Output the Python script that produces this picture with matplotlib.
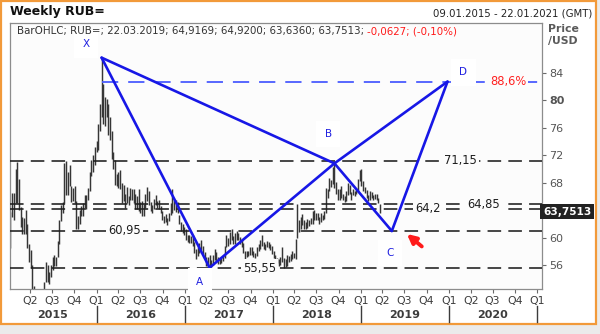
import pandas as pd
import matplotlib
matplotlib.use('Agg')
import matplotlib.pyplot as plt
import matplotlib.dates as mdates
from matplotlib.patches import Rectangle
from matplotlib.transforms import blended_transform_factory

# weekly high / low of RUB= (week ending Friday, 09.01.2015 .. 22.03.2019)
hi_2015 = [63.7, 66.5, 66.5, 70.0, 71.0, 68.5, 64.5, 63.0, 62.8, 64.0, 62.0, 59.0, 58.2,
           56.0, 53.0, 52.5, 52.5, 51.6, 50.8, 51.2, 53.5, 56.4, 56.0, 55.0, 56.0, 57.2,
           57.5, 57.2, 59.5, 62.5, 64.8, 65.2, 70.8, 71.2, 69.5, 70.5, 67.5, 67.2, 67.5,
           65.3, 63.2, 64.0, 64.6, 65.0, 66.2, 66.2, 67.2, 69.5, 71.3, 72.0, 73.2]
lo_2015 = [58.5, 63.0, 62.5, 65.0, 65.0, 64.0, 61.5, 60.5, 60.5, 60.5, 58.5, 56.5, 55.5,
           51.5, 49.5, 50.0, 50.5, 49.5, 49.2, 49.5, 51.2, 53.5, 53.5, 53.2, 54.2, 55.2,
           55.8, 55.9, 57.2, 59.0, 62.4, 63.5, 65.0, 66.2, 66.2, 67.5, 65.2, 65.3, 65.0,
           61.2, 61.3, 62.0, 63.2, 63.2, 64.3, 64.2, 65.5, 66.8, 69.0, 69.5, 70.5]
hi_2016 = [74.0, 76.5, 79.5, 86.2, 82.3, 80.5, 80.2, 79.5, 77.5, 75.5, 72.5, 71.3, 69.3,
           69.5, 69.8, 68.0, 67.6, 66.4, 67.3, 66.0, 67.2, 67.0, 67.0, 66.3, 66.0, 67.1,
           65.2, 65.3, 64.9, 66.4, 67.3, 66.8, 65.2, 64.7, 65.6, 66.2, 65.3, 65.5, 64.6,
           63.8, 63.2, 63.4, 62.8, 63.5, 65.1, 67.1, 65.5, 65.5, 65.2, 63.3, 62.2, 61.9, 61.6]
lo_2016 = [72.5, 72.8, 75.5, 77.5, 76.5, 76.2, 77.5, 75.0, 74.2, 71.5, 70.0, 67.6, 67.5,
           67.2, 67.0, 65.0, 65.3, 64.3, 65.0, 64.7, 65.5, 65.5, 65.0, 64.2, 64.2, 63.9,
           63.5, 63.2, 63.2, 64.3, 65.3, 64.8, 63.9, 63.6, 64.2, 64.8, 64.3, 64.2, 63.6,
           62.6, 62.1, 62.3, 61.8, 62.4, 63.3, 63.6, 64.0, 63.7, 63.6, 62.0, 61.0, 60.6, 60.3]
hi_2017 = [61.2, 60.4, 60.3, 60.2, 60.3, 59.4, 58.3, 58.6, 59.2, 59.6, 58.8, 57.9, 57.2,
           57.2, 57.5, 56.7, 57.4, 58.3, 57.9, 57.1, 56.9, 57.0, 57.3, 58.7, 60.4, 60.0,
           60.8, 61.3, 60.2, 60.6, 61.0, 60.7, 60.1, 59.6, 59.2, 58.0, 58.0, 58.1, 58.6,
           58.6, 58.0, 57.8, 58.6, 59.0, 59.6, 60.4, 59.4, 59.1, 59.5, 59.4, 59.1, 58.7]
lo_2017 = [59.6, 59.3, 59.2, 59.2, 58.7, 57.8, 56.9, 57.3, 57.7, 58.2, 57.5, 56.8, 55.8,
           55.9, 55.6, 55.7, 56.0, 56.7, 56.5, 56.2, 56.2, 56.3, 56.6, 57.0, 58.6, 58.8,
           59.1, 59.6, 59.0, 59.1, 59.6, 59.6, 59.0, 58.6, 57.7, 56.9, 57.1, 57.3, 57.5,
           57.5, 57.2, 57.0, 57.3, 58.0, 58.3, 58.8, 58.3, 58.2, 58.6, 58.5, 58.2, 57.6]
hi_2018 = [58.0, 57.5, 57.0, 56.8, 57.1, 58.6, 57.0, 56.8, 57.5, 57.3, 57.6, 58.0, 57.8,
           59.8, 64.9, 62.5, 63.0, 63.4, 62.6, 62.3, 62.7, 62.6, 62.8, 63.8, 64.0, 63.6,
           63.6, 63.0, 63.6, 63.3, 63.8, 67.2, 67.1, 68.6, 68.4, 70.2, 70.8, 68.1, 67.1,
           67.0, 67.5, 66.3, 66.0, 66.8, 68.0, 67.6, 66.7, 67.1, 66.8, 67.2, 68.5, 69.9]
lo_2018 = [57.0, 56.6, 56.3, 55.9, 56.0, 56.5, 55.6, 55.7, 55.9, 56.4, 56.6, 56.8, 57.0,
           56.9, 60.0, 60.8, 61.2, 61.8, 61.3, 61.3, 61.4, 61.7, 61.9, 61.9, 62.5, 62.6,
           62.5, 61.9, 62.2, 62.5, 62.7, 63.5, 65.8, 66.8, 67.3, 67.8, 67.2, 66.4, 65.4,
           65.5, 65.8, 65.4, 65.2, 65.3, 66.2, 66.3, 65.5, 66.2, 66.0, 66.4, 66.6, 68.2]
hi_2019 = [70.0, 68.2, 67.3, 66.9, 66.2, 66.8, 66.6, 66.2, 66.3, 66.3, 65.8, 64.92]
lo_2019 = [67.5, 66.8, 66.5, 65.8, 65.3, 65.5, 65.7, 65.4, 65.6, 65.5, 65.0, 63.636]
last_close = 63.7513

# horizontal levels
levels = [71.15, 64.85, 64.2, 60.95, 55.55]
level_text = ['71,15', '64,85', '64,2', '60,95', '55,55']
level_label_x = [0.846, 0.89, 0.786, 0.215, 0.469]
fib_level = 82.71
fib_text = '88,6%'

# XABCD pattern
pat_names = ['X', 'A', 'B', 'C', 'D']
pat_dates = ['2016-01-22', '2017-04-14', '2018-09-14', '2019-05-10', '2019-12-27']
pat_prices = [86.2, 55.6, 70.8, 60.95, 82.71]
pat_label_pos = [(0.143, 0.92), (0.357, 0.027), (0.598, 0.583), (0.714, 0.135), (0.852, 0.815)]
pat_segments = [('X', 'A'), ('A', 'B'), ('B', 'C'), ('C', 'D'), ('X', 'B'), ('B', 'D')]

# 64 is hidden behind the last price box
yticks = [56, 60, 68, 72, 76, 80, 84]

high = hi_2015 + hi_2016 + hi_2017 + hi_2018 + hi_2019
low = lo_2015 + lo_2016 + lo_2017 + lo_2018 + lo_2019
weeks = pd.date_range('2015-01-09', periods=len(high), freq='W-FRI')
wx = mdates.date2num(weeks)

W, H = 600, 334
fig = plt.figure(figsize=(6, 3.34), dpi=100)
fig.patch.set_facecolor('#ebebeb')
fig.patches.append(Rectangle((1 / W, 1 - 324 / H), 595 / W, 323 / H, transform=fig.transFigure,
                             facecolor='white', edgecolor='#f29a3a', lw=1.6, zorder=-10))

ax = fig.add_axes([10 / W, 1 - 289 / H, 532 / W, 266 / H])
ax.set_zorder(2)
ax.set_facecolor('#fcfcfc')
for s in ax.spines.values():
    s.set_color('#8c8c8c')
    s.set_linewidth(0.9)

ax.vlines(wx, low, high, color='#363636', lw=1.05, zorder=2)

ax.set_xlim(mdates.date2num(pd.Timestamp('2015-01-07')), mdates.date2num(pd.Timestamp('2021-01-22')))
ax.set_ylim(52.5, 91.25)

# levels
for lv, txt, lx in zip(levels, level_text, level_label_x):
    ax.axhline(lv, color='#1e1e1e', lw=1.15, dashes=(8.5, 4.5), zorder=3)
    ax.text(lx, lv, txt, transform=blended_transform_factory(ax.transAxes, ax.transData),
            ha='center', va='center', fontsize=8.3, color='#1e1e1e', zorder=5,
            bbox=dict(facecolor='#fcfcfc', edgecolor='none', pad=1.5))

xnum = dict(zip(pat_names, mdates.date2num(pd.to_datetime(pat_dates))))
ynum = dict(zip(pat_names, pat_prices))
ax.plot([xnum['X'], ax.get_xlim()[1]], [fib_level, fib_level], color='#4a5cff', lw=1.3,
        dashes=(9, 5.5), zorder=3)
ax.text(0.936, fib_level, fib_text, transform=blended_transform_factory(ax.transAxes, ax.transData),
        ha='center', va='center', fontsize=8.3, color='#ff2020', zorder=5,
        bbox=dict(facecolor='#fcfcfc', edgecolor='none', pad=1.5))

for a, b in pat_segments:
    ax.plot([xnum[a], xnum[b]], [ynum[a], ynum[b]], color='#1717e6', lw=1.9, zorder=4,
            solid_capstyle='round')
for name, (px, py) in zip(pat_names, pat_label_pos):
    ax.text(px, py, name, transform=ax.transAxes, ha='center', va='center', fontsize=7.5,
            color='#2020e0', zorder=6,
            bbox=dict(facecolor='white', edgecolor='none', boxstyle='square,pad=0.8'))

ax.annotate('', xy=(0.746, 0.207), xytext=(0.774, 0.16), xycoords='axes fraction',
            arrowprops=dict(arrowstyle='-|>', color='#ff1a1a', lw=2.8, mutation_scale=13,
                            shrinkA=0, shrinkB=0), zorder=6)

# y axis on the right
ax.yaxis.tick_right()
ax.set_yticks(yticks)
ax.set_yticklabels([str(t) for t in yticks])
ax.tick_params(axis='y', length=3, color='#6a6a6a', labelsize=8, labelcolor='#555555', pad=2)
for lab in ax.get_yticklabels():
    if lab.get_text() == '80':
        lab.set_fontweight('bold')
ax.text(1.002, last_close, '63,7513',
        transform=blended_transform_factory(ax.transAxes, ax.transData),
        ha='left', va='center', fontsize=7.6, fontweight='bold', color='white', zorder=7,
        bbox=dict(facecolor='#222222', edgecolor='none', boxstyle='square,pad=0.25'), clip_on=False)
fig.text(548 / W, 1 - 24 / H, 'Price\n/USD', ha='left', va='top', fontsize=7.8, fontweight='bold',
         color='#5a5a5a', linespacing=1.25)

# x axis quarters and years
qdates = pd.date_range('2015-04-01', '2021-01-01', freq='QS')
ax.set_xticks(mdates.date2num(qdates))
ax.set_xticklabels(['Q%d' % q.quarter for q in qdates])
ax.tick_params(axis='x', length=3, color='#6a6a6a', labelsize=7.8, labelcolor='#3c3c3c', pad=2)
tb = blended_transform_factory(ax.transData, ax.transAxes)
for yr in range(2015, 2021):
    mid = mdates.date2num(pd.Timestamp('%d-07-01' % yr))
    ax.text(mid, -0.098, str(yr), transform=tb, ha='center', va='center', fontsize=8,
            fontweight='bold', color='#3c3c3c', clip_on=False)
for yr in range(2016, 2022):
    sep = mdates.date2num(pd.Timestamp('%d-01-01' % yr))
    ax.plot([sep, sep], [-0.065, -0.125], transform=tb, color='#3c3c3c', lw=1, clip_on=False)

# header
fig.text(10 / W, 1 - 12 / H, 'Weekly RUB=', ha='left', va='center', fontsize=9, fontweight='bold',
         color='#111111')
fig.text(592 / W, 1 - 13 / H, '09.01.2015 - 22.01.2021 (GMT)', ha='right', va='center',
         fontsize=7.3, color='#222222')
t1 = fig.text(17 / W, 1 - 31 / H, 'BarOHLC; RUB=; 22.03.2019; 64,9169; 64,9200; 63,6360; 63,7513; ',
              ha='left', va='center', fontsize=7.4, color='#333333', zorder=5)
fig.canvas.draw()
bb = t1.get_window_extent()
fig.text(bb.x1 / W, 1 - 31 / H, '-0,0627; (-0,10%)', ha='left', va='center', fontsize=7.4,
         color='#ff1a1a', zorder=5)

fig.savefig('out.png', dpi=100)
